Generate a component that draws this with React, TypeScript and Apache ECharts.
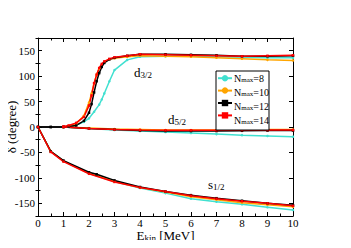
import React, { useEffect, useRef } from "react";
import * as echarts from "echarts";

const nmaxNames = ["8", "10", "12", "14"];
const colors = ["#40E0D0", "#FFA500", "#000000", "#FF0000"];
const symbols = ["circle", "circle", "rect", "rect"];

const yMajor = [-150, -100, -50, 0, 50, 100, 150];
const yMinor = [-175, -125, -75, -25, 25, 75, 125, 175];

// d3/2 phase shifts
const d32_n8 = [[1, 0], [1.2, 1], [1.5, 4], [1.8, 10], [2, 17], [2.2, 30], [2.4, 44], [2.5, 54], [2.6, 66], [2.8, 90], [3, 112], [3.5, 132], [4, 138], [5, 139], [6, 139], [7, 138], [8, 137], [9, 136], [10, 136]];
const d32_n10 = [[1, 0], [1.2, 2], [1.5, 7], [1.8, 22], [2, 48], [2.1, 66], [2.2, 86], [2.3, 103], [2.4, 115], [2.6, 128], [2.8, 133], [3, 135], [3.5, 138], [4, 140], [5, 139], [6, 138], [7, 136], [8, 134], [9, 132], [10, 131]];
const d32_n12 = [[0, 0], [0.5, 0], [1, 0], [1.2, 1], [1.5, 3], [1.8, 12], [2, 28], [2.1, 45], [2.2, 68], [2.3, 90], [2.4, 106], [2.5, 118], [2.6, 126], [2.8, 133], [3, 136], [3.5, 140], [4, 143], [5, 143], [6, 142], [7, 141], [8, 139], [9, 139], [10, 140]];
const d32_n14 = [[1, 1], [1.2, 3], [1.5, 8], [1.8, 20], [2, 42], [2.1, 62], [2.2, 86], [2.3, 103], [2.4, 116], [2.5, 124], [2.6, 129], [2.8, 134], [3, 137], [3.5, 140], [4, 143], [5, 142], [6, 141], [7, 140], [8, 139], [9, 140], [10, 141]];

// d5/2 phase shifts
const d52_n8 = [[1, 0], [2, -3], [3, -6], [4, -8], [5, -10], [6, -12], [7, -14], [8, -16], [9, -17.5], [10, -19]];
const d52_n10 = [[1, 0], [2, -2], [3, -4], [4, -5], [5, -6], [6, -6], [7, -6], [8, -5.5], [9, -5], [10, -5]];
const d52_n12 = [[0, 0], [0.5, 0], [1, 0], [2, -3], [3, -5], [4, -7], [5, -8], [6, -8], [7, -8], [8, -7.5], [9, -7], [10, -7]];
const d52_n14 = [[1, 0], [2, -3], [3, -5], [4, -6], [5, -6.5], [6, -6.5], [7, -6.5], [8, -6], [9, -6], [10, -6]];

// s1/2 phase shifts
const s12_n8 = [[0, 0], [0.5, -48], [1, -67], [2, -91], [3, -107], [4, -120], [5, -130], [6, -141], [7, -147], [8, -152], [9, -158], [10, -163]];
const s12_n10 = [[0, 0], [0.5, -48], [1, -67], [2, -91], [3, -107], [4, -119], [5, -128], [6, -137], [7, -143], [8, -149], [9, -153], [10, -157]];
const s12_n12 = [[0, 0], [0.5, -48], [1, -66], [2, -89], [2.3, -93], [3, -105], [4, -118], [5, -127], [6, -134], [7, -140], [8, -145], [9, -150], [10, -154]];
const s12_n14 = [[0, 0], [0.5, -49], [1, -68], [2, -92], [3, -108], [4, -119], [5, -127], [6, -135], [7, -141], [8, -146], [9, -150], [10, -155]];

const curves = [
  [d32_n8, d52_n8, s12_n8],
  [d32_n10, d52_n10, s12_n10],
  [d32_n12, d52_n12, s12_n12],
  [d32_n14, d52_n14, s12_n14],
];

const FONT = "'Liberation Serif', 'Times New Roman', serif";

export default function App() {
  const ref = useRef<HTMLDivElement>(null);
  useEffect(() => {
    if (!ref.current) return;
    const chart = echarts.init(ref.current, null, { renderer: "svg" });
    const series: any[] = [];
    curves.forEach((group, i) => {
      group.forEach((data) => {
        series.push({
          type: "line",
          name: nmaxNames[i],
          data,
          symbol: symbols[i],
          symbolSize: 2.5,
          showSymbol: true,
          lineStyle: { color: colors[i], width: 1.5 },
          itemStyle: { color: colors[i] },
          z: 2,
        });
      });
    });
    const axisLine = { show: true, onZero: false, lineStyle: { color: "#000", width: 1 } };
    const labelStyle = { fontFamily: FONT, fontSize: 11, lineHeight: 11, color: "#000" };
    const subRich = {
      m: { fontFamily: FONT, fontSize: 13, color: "#000", lineHeight: 11, verticalAlign: "bottom" },
      s: { fontFamily: FONT, fontSize: 9, color: "#000", lineHeight: 1, verticalAlign: "bottom" },
    };
    const legRich = {
      n: { fontFamily: FONT, fontSize: 10, color: "#000", lineHeight: 11, verticalAlign: "bottom" },
      s: { fontFamily: FONT, fontSize: 7, color: "#000", lineHeight: 1, verticalAlign: "bottom" },
    };
    const tick = { show: true, inside: true, length: 4, lineStyle: { color: "#000" } };
    const minor = { show: true, splitNumber: 2, length: 2.5, lineStyle: { color: "#000" } };
    const legendRows = [79, 93, 107, 121];
    chart.setOption({
      animation: false,
      textStyle: { fontFamily: FONT },
      grid: { left: 38, right: 58, top: 38, bottom: 32, outerBoundsMode: "none", containLabel: false },
      legend: {
        data: nmaxNames,
        orient: "vertical",
        left: 217,
        top: 75,
        itemWidth: 14,
        itemHeight: 8,
        itemGap: 6,
        padding: 0,
        borderWidth: 0,
        z: 4,
        formatter: () => "",
        textStyle: { fontSize: 8, lineHeight: 8 },
      },
      xAxis: [
        {
          type: "value",
          min: 0,
          max: 10,
          interval: 1,
          position: "bottom",
          axisLine,
          axisTick: tick,
          minorTick: minor,
          splitLine: { show: false },
          minorSplitLine: { show: false },
          axisLabel: { ...labelStyle, margin: 1 },
          name: "{m|E}{s|kin}{m| [MeV]}",
          nameLocation: "middle",
          nameGap: 15,
          nameMoveOverlap: false,
          nameTextStyle: { fontFamily: FONT, rich: subRich },
        },
        {
          type: "value",
          min: 0,
          max: 10,
          interval: 1,
          position: "top",
          axisLine,
          axisTick: tick,
          minorTick: minor,
          splitLine: { show: false },
          minorSplitLine: { show: false },
          axisLabel: { show: false },
        },
      ],
      yAxis: [
        {
          type: "value",
          min: -175,
          max: 175,
          position: "left",
          axisLine,
          axisTick: { ...tick, customValues: yMajor },
          axisLabel: { ...labelStyle, margin: 3, customValues: yMajor },
          splitLine: { show: false },
          name: "δ (degree)",
          nameLocation: "middle",
          nameGap: 20,
          nameMoveOverlap: false,
          nameTextStyle: { fontFamily: FONT, fontSize: 13, color: "#000" },
        },
        {
          type: "value",
          min: -175,
          max: 175,
          position: "left",
          axisLine: { show: false },
          axisTick: { ...tick, length: 2.5, customValues: yMinor },
          axisLabel: { show: false },
          splitLine: { show: false },
        },
        {
          type: "value",
          min: -175,
          max: 175,
          position: "right",
          axisLine,
          axisTick: { ...tick, customValues: yMajor },
          axisLabel: { show: false },
          splitLine: { show: false },
        },
        {
          type: "value",
          min: -175,
          max: 175,
          position: "right",
          axisLine: { show: false },
          axisTick: { ...tick, length: 2.5, customValues: yMinor },
          axisLabel: { show: false },
          splitLine: { show: false },
        },
      ],
      graphic: [
        {
          type: "rect",
          z: 3,
          shape: { x: 216, y: 71, width: 53, height: 59 },
          style: { fill: "#fff", stroke: "#000", lineWidth: 1 },
        },
        ...nmaxNames.map((n, i) => ({
          type: "text",
          z: 5,
          left: 234,
          top: legendRows[i] - 5.5,
          style: { text: `{n|N}{s|max}{n|=${n}}`, rich: legRich },
        })),
        { type: "text", left: 134, top: 66, style: { text: "{m|d}{s|3/2}", rich: subRich } },
        { type: "text", left: 168, top: 113, style: { text: "{m|d}{s|5/2}", rich: subRich } },
        { type: "text", left: 208, top: 178, style: { text: "{m|s}{s|1/2}", rich: subRich } },
      ],
      series,
    });
    return () => chart.dispose();
  }, []);
  return <div ref={ref} style={{ width: 351, height: 248, margin: -8 }} />;
}
